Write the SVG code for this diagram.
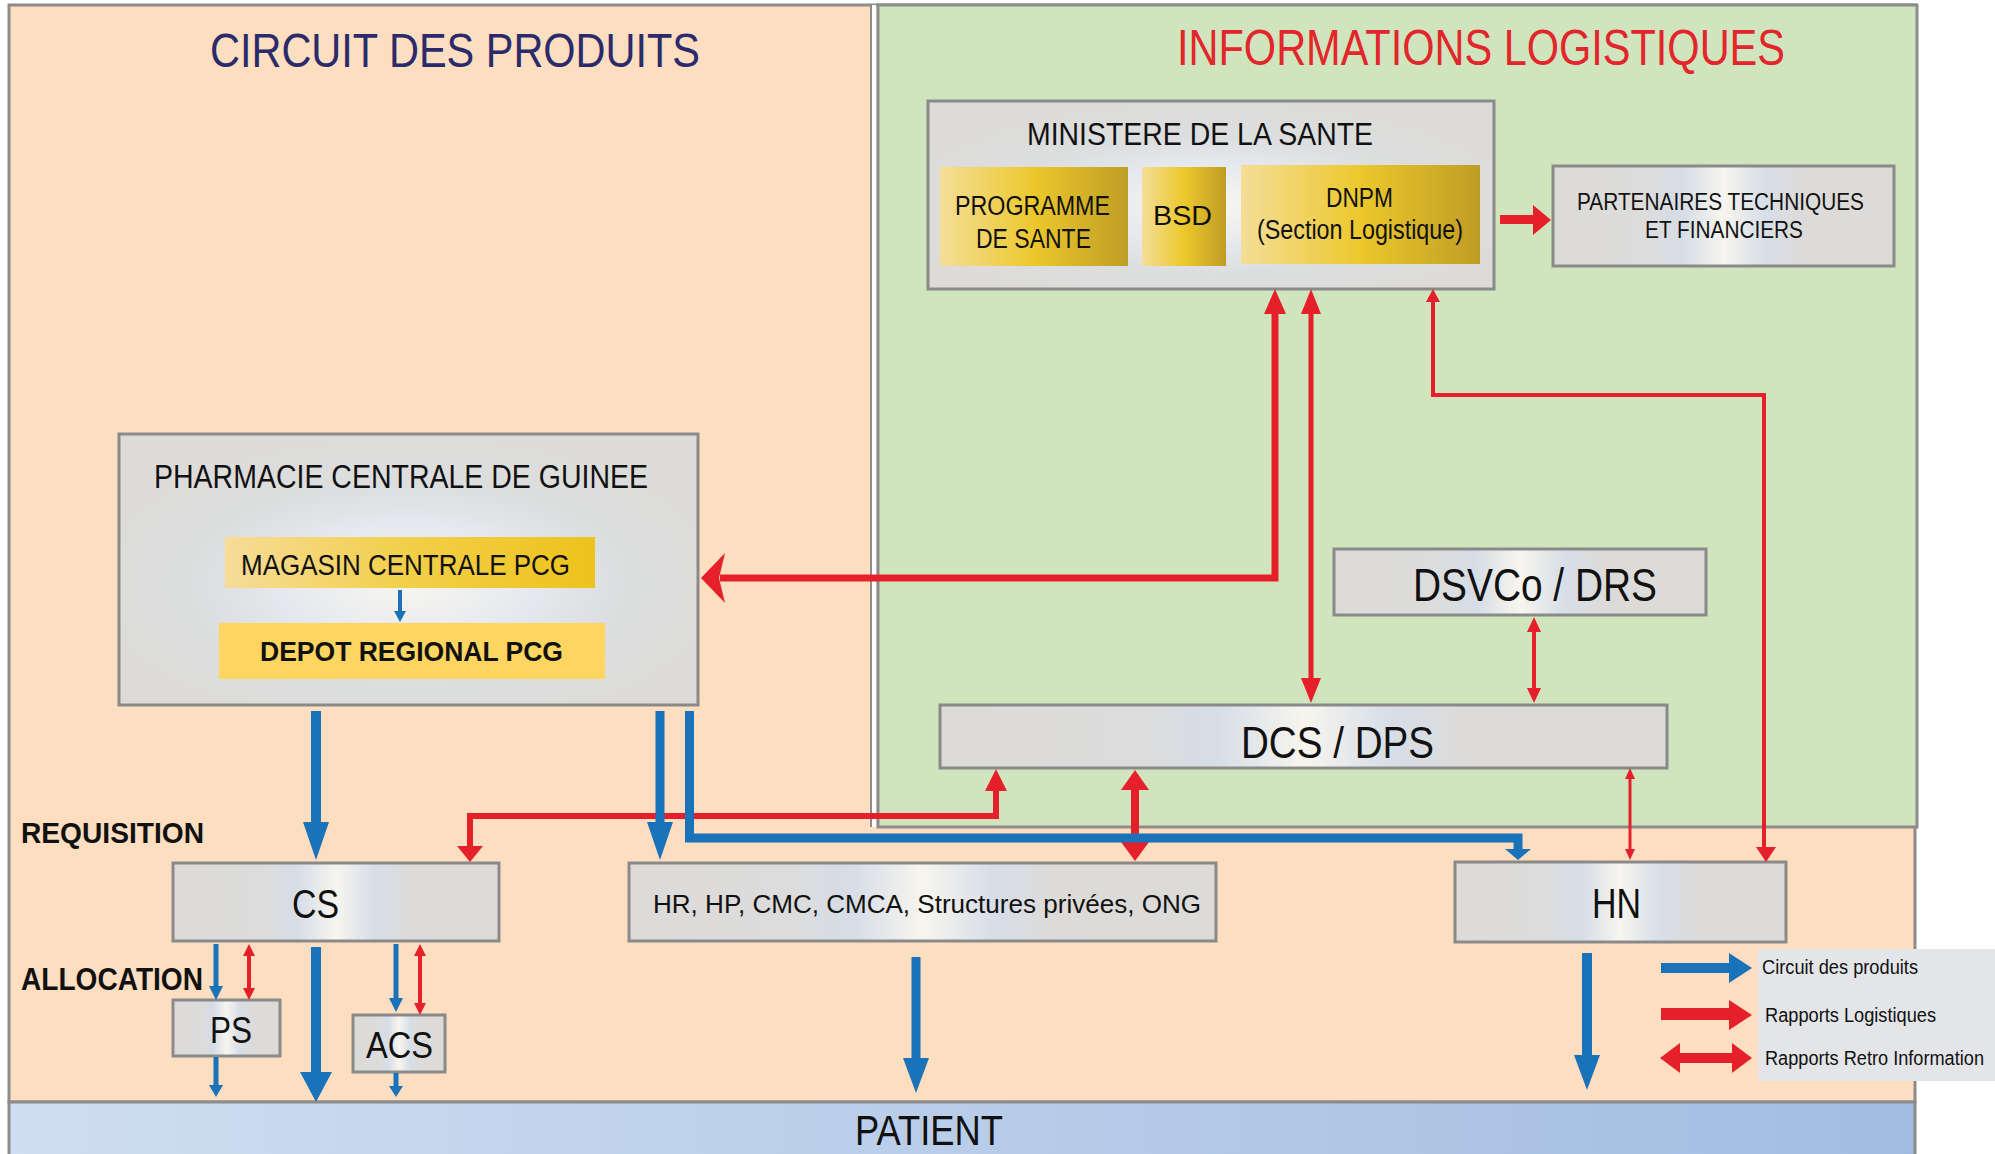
<svg xmlns="http://www.w3.org/2000/svg" width="1995" height="1154" viewBox="0 0 1995 1154">
<defs>
<linearGradient id="gBox" x1="0" y1="0" x2="1" y2="0">
<stop offset="0" stop-color="#dddbd8"/><stop offset="0.28" stop-color="#dcdcdc"/><stop offset="0.38" stop-color="#d6dde7"/><stop offset="0.5" stop-color="#f7f5ee"/><stop offset="0.62" stop-color="#d7dee8"/><stop offset="0.72" stop-color="#dddbd9"/><stop offset="1" stop-color="#dddbd8"/>
</linearGradient>
<radialGradient id="gBig" cx="0.5" cy="0.55" r="0.6">
<stop offset="0" stop-color="#f8f6ef"/><stop offset="0.35" stop-color="#e6e9ee"/><stop offset="0.6" stop-color="#dcdedf"/><stop offset="1" stop-color="#dddbd8"/>
</radialGradient>
<linearGradient id="gGold" x1="0" y1="0" x2="1" y2="0">
<stop offset="0" stop-color="#f4de98"/><stop offset="0.5" stop-color="#ecc82c"/><stop offset="1" stop-color="#bf9d24"/>
</linearGradient>
<linearGradient id="gMag" x1="0" y1="0" x2="1" y2="0">
<stop offset="0" stop-color="#f7dc98"/><stop offset="0.5" stop-color="#f2cf48"/><stop offset="1" stop-color="#eec21c"/>
</linearGradient>
<linearGradient id="gPat" x1="0" y1="0" x2="1" y2="0">
<stop offset="0" stop-color="#cfdef1"/><stop offset="1" stop-color="#a2bce1"/>
</linearGradient>
<style>
.box{fill:url(#gBox);stroke:#8a8a8a;stroke-width:3}
.big{fill:url(#gBig);stroke:#8a8a8a;stroke-width:3}
.gold{fill:url(#gGold)}
.t{font-family:'Liberation Sans',Arial,sans-serif;fill:#111}
.b{font-weight:bold}
.blue{stroke:#1a72b8;fill:none}
.red{stroke:#e5202a;fill:none}
.bh{fill:#1a72b8}
.rh{fill:#e5202a}
</style>
</defs>

<g id="panels">
<rect x="9" y="5" width="1906" height="1097" fill="#fddec0" stroke="#8c8c8c" stroke-width="3"/>
<line x1="874" y1="5" x2="874" y2="827" stroke="#ffffff" stroke-width="4"/>
<line x1="871" y1="5" x2="871" y2="827" stroke="#8c8c8c" stroke-width="2"/>
<rect x="878" y="5" width="1039" height="822" fill="#d0e5bd" stroke="#8c8c8c" stroke-width="3"/>
<rect x="9" y="1102" width="1906" height="60" fill="url(#gPat)" stroke="#8c8c8c" stroke-width="3"/>
<text class="t" x="210" y="67" font-size="49" textLength="490" lengthAdjust="spacingAndGlyphs" style="fill:#2b2a6b">CIRCUIT DES PRODUITS</text>
<text class="t" x="1177" y="65" font-size="50" textLength="608" lengthAdjust="spacingAndGlyphs" style="fill:#e3262c">INFORMATIONS LOGISTIQUES</text>
<text class="t b" x="21" y="843" font-size="30" textLength="183" lengthAdjust="spacingAndGlyphs">REQUISITION</text>
<text class="t b" x="21" y="990" font-size="31" textLength="182" lengthAdjust="spacingAndGlyphs">ALLOCATION</text>
</g>

<g id="patient">
<text class="t" x="855" y="1145" font-size="42" textLength="148" lengthAdjust="spacingAndGlyphs">PATIENT</text>
</g>

<g id="ministere">
<rect class="big" x="928" y="101" width="566" height="188"/>
<text class="t" x="1027" y="145" font-size="31" textLength="346" lengthAdjust="spacingAndGlyphs">MINISTERE DE LA SANTE</text>
</g>
<g id="programme">
<rect class="gold" x="940" y="167" width="188" height="99"/>
<text class="t" x="955" y="215" font-size="27" textLength="155" lengthAdjust="spacingAndGlyphs">PROGRAMME</text>
<text class="t" x="976" y="248" font-size="27" textLength="115" lengthAdjust="spacingAndGlyphs">DE SANTE</text>
</g>
<g id="bsd">
<rect class="gold" x="1142" y="167" width="84" height="99"/>
<text class="t" x="1153" y="225" font-size="27" textLength="59" lengthAdjust="spacingAndGlyphs">BSD</text>
</g>
<g id="dnpm">
<rect class="gold" x="1241" y="165" width="239" height="99"/>
<text class="t" x="1326" y="207" font-size="27" textLength="67" lengthAdjust="spacingAndGlyphs">DNPM</text>
<text class="t" x="1257" y="239" font-size="27" textLength="206" lengthAdjust="spacingAndGlyphs">(Section Logistique)</text>
</g>
<g id="partenaires">
<rect class="box" x="1553" y="166" width="341" height="100"/>
<text class="t" x="1577" y="210" font-size="23" textLength="287" lengthAdjust="spacingAndGlyphs">PARTENAIRES TECHNIQUES</text>
<text class="t" x="1645" y="238" font-size="23" textLength="158" lengthAdjust="spacingAndGlyphs">ET FINANCIERS</text>
</g>

<g id="pcg">
<rect class="big" x="119" y="434" width="579" height="271"/>
<text class="t" x="154" y="488" font-size="34" textLength="494" lengthAdjust="spacingAndGlyphs">PHARMACIE CENTRALE DE GUINEE</text>
</g>
<g id="magasin">
<rect x="225" y="537" width="370" height="51" fill="url(#gMag)"/>
<text class="t" x="241" y="575" font-size="30" textLength="329" lengthAdjust="spacingAndGlyphs">MAGASIN CENTRALE PCG</text>
</g>
<g id="depot">
<rect x="219" y="623" width="386" height="56" fill="#fdd560"/>
<text class="t b" x="260" y="661" font-size="27" textLength="303" lengthAdjust="spacingAndGlyphs">DEPOT REGIONAL PCG</text>
</g>

<g id="dsvco">
<rect class="box" x="1334" y="549" width="372" height="66"/>
<text class="t" x="1413" y="601" font-size="47" textLength="244" lengthAdjust="spacingAndGlyphs">DSVCo / DRS</text>
</g>
<g id="dcs">
<rect class="box" x="940" y="705" width="727" height="63"/>
<text class="t" x="1241" y="758" font-size="44" textLength="193" lengthAdjust="spacingAndGlyphs">DCS / DPS</text>
</g>
<g id="cs">
<rect class="box" x="173" y="863" width="326" height="78"/>
<text class="t" x="292" y="918" font-size="40" textLength="47" lengthAdjust="spacingAndGlyphs">CS</text>
</g>
<g id="hr">
<rect class="box" x="629" y="863" width="587" height="78"/>
<text class="t" x="653" y="913" font-size="26" textLength="548" lengthAdjust="spacingAndGlyphs">HR, HP, CMC, CMCA, Structures privées, ONG</text>
</g>
<g id="hn">
<rect class="box" x="1455" y="862" width="331" height="80"/>
<text class="t" x="1592" y="918" font-size="42" textLength="49" lengthAdjust="spacingAndGlyphs">HN</text>
</g>
<g id="ps">
<rect class="box" x="173" y="1000" width="107" height="56"/>
<text class="t" x="210" y="1043" font-size="36" textLength="42" lengthAdjust="spacingAndGlyphs">PS</text>
</g>
<g id="acs">
<rect class="box" x="353" y="1015" width="92" height="57"/>
<text class="t" x="366" y="1058" font-size="36" textLength="67" lengthAdjust="spacingAndGlyphs">ACS</text>
</g>

<g id="connectors">
<path class="red" stroke-width="9" d="M1500,219.5 H1536"/>
<polygon class="rh" points="1551,220 1533,205 1533,235"/>
<path class="red" stroke-width="7" d="M1275,312 V578 H720"/>
<polygon class="rh" points="1275,289 1264,314 1286,314"/>
<polygon class="rh" points="701,578 725,553 719,578 725,603"/>
<path class="red" stroke-width="5" d="M1311,310 V682"/>
<polygon class="rh" points="1311,289 1301,314 1321,314"/>
<polygon class="rh" points="1311,703 1301,678 1321,678"/>
<path class="red" stroke-width="4" d="M1433,300 V395 H1764 V850"/>
<polygon class="rh" points="1433,289 1426,302 1440,302"/>
<polygon class="rh" points="1766,862 1756,847 1776,847"/>
<path class="red" stroke-width="4" d="M1534,630 V690"/>
<polygon class="rh" points="1534,617 1527,632 1541,632"/>
<polygon class="rh" points="1534,703 1527,688 1541,688"/>
<path class="red" stroke-width="8" d="M1135,788 V845"/>
<polygon class="rh" points="1135,770 1121,790 1149,790"/>
<polygon class="rh" points="1135,861 1121,842 1149,842"/>
<path class="red" stroke-width="6" d="M470,850 V816 H996 V788"/>
<polygon class="rh" points="470,862 457,846 483,846"/>
<polygon class="rh" points="996,769 985,791 1007,791"/>
<path class="red" stroke-width="3" d="M1630,776 V852"/>
<polygon class="rh" points="1630,768 1625,779 1635,779"/>
<polygon class="rh" points="1630,860 1625,849 1635,849"/>
<path class="red" stroke-width="4" d="M249,952 V992"/>
<polygon class="rh" points="249,944 243,956 255,956"/>
<polygon class="rh" points="249,1000 243,988 255,988"/>
<path class="red" stroke-width="4" d="M420,952 V1007"/>
<polygon class="rh" points="420,944 414,956 426,956"/>
<polygon class="rh" points="420,1015 414,1003 426,1003"/>
<path class="blue" stroke-width="4" d="M400,590 V613"/>
<polygon class="bh" points="400,622 394,611 406,611"/>
<path class="blue" stroke-width="10" d="M316,711 V824"/>
<polygon class="bh" points="316,860 303,822 329,822"/>
<path class="blue" stroke-width="9" d="M660,711 V824"/>
<polygon class="bh" points="660,860 647,822 673,822"/>
<path class="blue" stroke-width="9" d="M689.5,711 V838 H1518 V851"/>
<polygon class="bh" points="1518,860 1505,849 1531,849"/>
<path class="blue" stroke-width="5" d="M216,944 V988"/>
<polygon class="bh" points="216,1000 209,986 223,986"/>
<path class="blue" stroke-width="10" d="M316,947 V1075"/>
<polygon class="bh" points="316,1102 300,1072 332,1072"/>
<path class="blue" stroke-width="5" d="M396,944 V1000"/>
<polygon class="bh" points="396,1012 389,998 403,998"/>
<path class="blue" stroke-width="5" d="M216,1057 V1088"/>
<polygon class="bh" points="216,1097 209,1085 223,1085"/>
<path class="blue" stroke-width="5" d="M396,1073 V1089"/>
<polygon class="bh" points="396,1097 389,1086 403,1086"/>
<path class="blue" stroke-width="9" d="M916,957 V1060"/>
<polygon class="bh" points="916,1093 903,1058 929,1058"/>
<path class="blue" stroke-width="10" d="M1587,953 V1058"/>
<polygon class="bh" points="1587,1090 1574,1055 1600,1055"/>
</g>

<g id="legend">
<rect x="1758" y="949" width="237" height="132" fill="#e3e5e8"/>
<path class="blue" stroke-width="10" d="M1661,968 H1731"/>
<polygon class="bh" points="1752,968 1729,953 1729,983"/>
<path class="red" stroke-width="12" d="M1661,1014 H1731"/>
<polygon class="rh" points="1752,1015 1729,1000 1729,1030"/>
<path class="red" stroke-width="10" d="M1676,1058 H1736"/>
<polygon class="rh" points="1660,1058 1680,1043 1680,1073"/>
<polygon class="rh" points="1752,1058 1732,1043 1732,1073"/>
<text class="t" x="1762" y="974" font-size="20" textLength="156" lengthAdjust="spacingAndGlyphs">Circuit des produits</text>
<text class="t" x="1765" y="1022" font-size="20" textLength="171" lengthAdjust="spacingAndGlyphs">Rapports Logistiques</text>
<text class="t" x="1765" y="1065" font-size="20" textLength="219" lengthAdjust="spacingAndGlyphs">Rapports Retro Information</text>
</g>
</svg>
